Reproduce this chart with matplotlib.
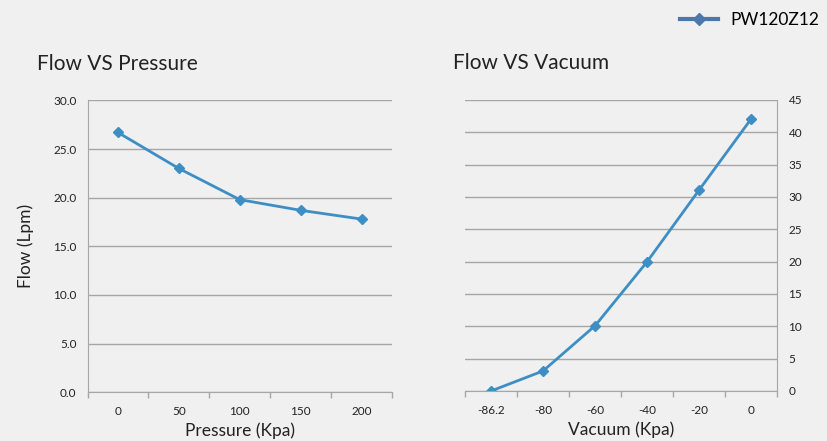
import numpy as np
import matplotlib.pyplot as plt
from matplotlib.lines import Line2D

plt.rcParams['font.family'] = ['Lato', 'DejaVu Sans']

# data
pressure_labels = ['0', '50', '100', '150', '200']
flow_pressure = [26.7, 23.0, 19.8, 18.7, 17.8]
vacuum_labels = ['-86.2', '-80', '-60', '-40', '-20', '0']
flow_vacuum = [0.0, 3.1, 10.1, 20.0, 31.1, 42.1]
series_name = 'PW120Z12'

bg = '#f0f0f0'
line_col = '#3d8ec4'
grid_col = '#a6a6a6'
txt = '#222222'

fig = plt.figure(figsize=(8.28, 4.41), dpi=100, facecolor=bg)
ax1 = fig.add_axes([0.1057, 0.1104, 0.3678, 0.662], facecolor=bg)
ax2 = fig.add_axes([0.5616, 0.1134, 0.3772, 0.660], facecolor=bg)


def style(ax, labels, side):
    n = len(labels)
    ax.set_xlim(-0.5, n - 0.5)
    ax.set_xticks(np.arange(n))
    ax.set_xticklabels(labels, fontsize=8.5, color=txt)
    ax.set_xticks(np.arange(n + 1) - 0.5, minor=True)
    ax.tick_params(axis='x', which='major', length=0, pad=10)
    ax.tick_params(axis='x', which='minor', length=4, color=grid_col, width=1)
    ax.grid(axis='y', color=grid_col, linewidth=1)
    ax.set_axisbelow(True)
    for s in ['top', 'left', 'right']:
        ax.spines[s].set_visible(False)
    ax.spines['bottom'].set_color(grid_col)
    ax.spines[side].set_visible(True)
    ax.spines[side].set_color(grid_col)
    ax.tick_params(axis='y', length=0, labelsize=8.5, labelcolor=txt, pad=8)


ax1.plot(np.arange(len(flow_pressure)), flow_pressure, color=line_col, lw=2,
         marker='D', ms=5.5)
style(ax1, pressure_labels, 'left')
ax1.set_ylim(0, 30)
ax1.set_yticks(np.arange(0, 31, 5))
ax1.set_yticklabels(['%.1f' % v for v in np.arange(0, 31, 5)])
ax1.set_xlabel('Pressure (Kpa)', fontsize=12.5, color=txt, labelpad=4)
ax1.set_ylabel('Flow (Lpm)', fontsize=12.5, color=txt, labelpad=14)
ax1.set_title('Flow VS Pressure', fontsize=15, color=txt, loc='left',
              x=-0.165, pad=22)

ax2.plot(np.arange(len(flow_vacuum)), flow_vacuum, color=line_col, lw=2,
         marker='D', ms=5.5)
style(ax2, vacuum_labels, 'right')
ax2.set_ylim(0, 45)
ax2.set_yticks(np.arange(0, 46, 5))
ax2.yaxis.tick_right()
ax2.tick_params(axis='y', length=0, pad=8)
ax2.set_xlabel('Vacuum (Kpa)', fontsize=12.5, color=txt, labelpad=4)
ax2.set_title('Flow VS Vacuum', fontsize=15, color=txt, loc='left',
              x=-0.04, pad=22)

handle = Line2D([], [], color='#4a78ad', lw=3, marker='D', ms=6.5)
fig.legend([handle], [series_name], loc='upper right', bbox_to_anchor=(1.008, 1.008),
           frameon=False, fontsize=12.5, handlelength=2.2, handletextpad=0.7)

fig.savefig('out.png', dpi=100, facecolor=bg)
